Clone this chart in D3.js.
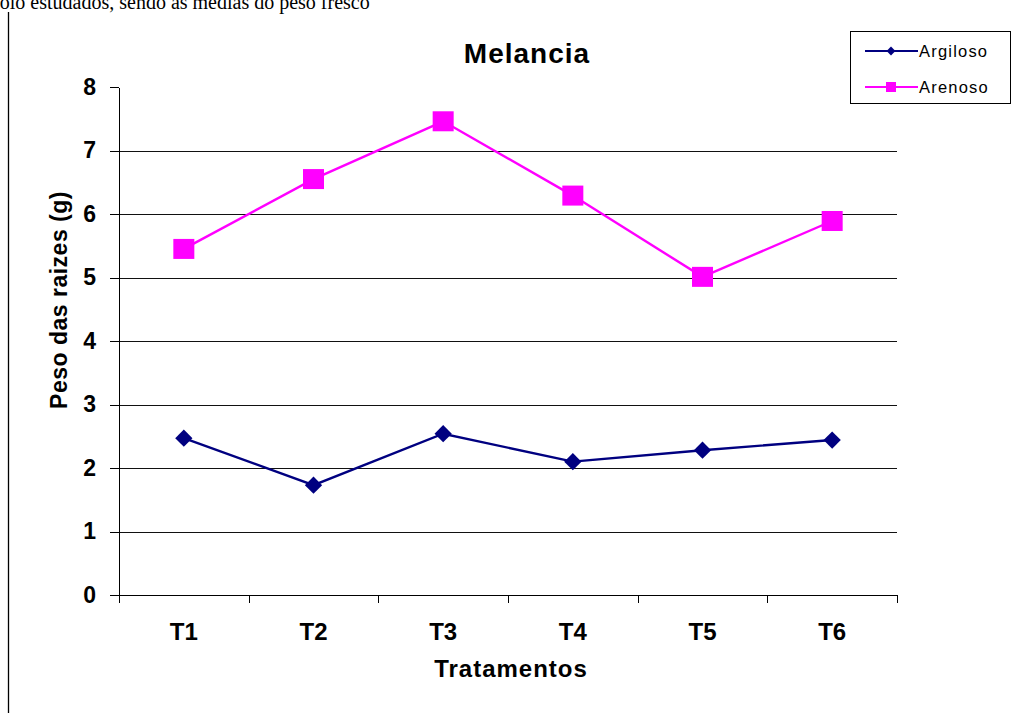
<!DOCTYPE html>
<html><head><meta charset="utf-8">
<script src="https://cdn.jsdelivr.net/npm/d3@7"></script>
<style>
body{margin:0;background:#fff;overflow:hidden}
svg{display:block}
</style></head>
<body>
<svg id="c" width="1017" height="713"></svg>
<script>
const categories = ["T1","T2","T3","T4","T5","T6"];
const argiloso = [2.47, 1.73, 2.54, 2.10, 2.28, 2.44];
const arenoso  = [5.45, 6.55, 7.46, 6.29, 5.01, 5.89];
const yTicks = [0,1,2,3,4,5,6,7,8];
const seriesNames = ["Argiloso","Arenoso"];
const seriesColors = ["#000080","#FF00FF"];

const svg = d3.select("#c");
const L = 119, R = 897, T = 87, B = 595;
const x = d3.scaleBand().domain(categories).range([L, R]).padding(0);
const y = d3.scaleLinear().domain([0, 8]).range([B, T]);

// page fragments
svg.append("text").attr("x", -8).attr("y", 9)
  .attr("font-family", "Liberation Serif, Times New Roman, serif")
  .attr("font-size", 20).attr("fill", "#000")
  .text("solo estudados, sendo as médias do peso fresco");
svg.append("line").attr("x1", 8.5).attr("x2", 8.5).attr("y1", 12).attr("y2", 713)
  .attr("stroke", "#000").attr("stroke-width", 1.3);

// gridlines
svg.append("g").attr("transform", `translate(${L},0)`)
  .call(d3.axisLeft(y).tickValues(yTicks.filter(v => v > 0 && v < 8)).tickSize(-(R - L)).tickFormat(""))
  .call(g => g.select(".domain").remove())
  .call(g => g.selectAll("line").attr("stroke", "#111").attr("stroke-width", 1).attr("shape-rendering", "crispEdges"));

// y axis
svg.append("g").attr("transform", `translate(${L},0)`)
  .call(d3.axisLeft(y).tickValues(yTicks).tickSize(9).tickPadding(14).tickFormat(d3.format("d")).tickSizeOuter(0))
  .call(g => g.select(".domain").attr("stroke", "#000").attr("shape-rendering", "crispEdges"))
  .call(g => g.selectAll("line").attr("shape-rendering", "crispEdges"))
  .call(g => g.selectAll("text").attr("font-family", "Arial, Liberation Sans, sans-serif")
    .attr("font-size", 23).attr("font-weight", "bold").attr("fill", "#000"));

// x axis
const xg = svg.append("g").attr("transform", `translate(0,${B})`);
xg.call(d3.axisBottom(x).tickSize(0).tickPadding(28).tickSizeOuter(0))
  .call(g => g.select(".domain").attr("stroke", "#000").attr("shape-rendering", "crispEdges"))
  .call(g => g.selectAll("text").attr("font-family", "Arial, Liberation Sans, sans-serif")
    .attr("font-size", 24).attr("font-weight", "bold").attr("fill", "#000"));
const bounds = categories.map(c => x(c)).concat([x.range()[1]]);
xg.selectAll("line.bt").data(bounds).join("line").attr("class", "bt")
  .attr("x1", d => d + 0.5).attr("x2", d => d + 0.5).attr("y1", 0).attr("y2", 8)
  .attr("stroke", "#000").attr("shape-rendering", "crispEdges");

// titles
svg.append("text").attr("x", 527).attr("y", 63).attr("text-anchor", "middle")
  .attr("font-family", "Arial, Liberation Sans, sans-serif").attr("font-size", 28)
  .attr("font-weight", "bold").attr("letter-spacing", 1).text("Melancia");
svg.append("text").attr("x", 511).attr("y", 677).attr("text-anchor", "middle")
  .attr("font-family", "Arial, Liberation Sans, sans-serif").attr("font-size", 24)
  .attr("font-weight", "bold").attr("letter-spacing", 1).text("Tratamentos");
svg.append("text").attr("transform", "translate(67,300) rotate(-90)").attr("text-anchor", "middle")
  .attr("font-family", "Arial, Liberation Sans, sans-serif").attr("font-size", 23)
  .attr("font-weight", "bold").attr("letter-spacing", 0.5).text("Peso das raizes (g)");

// series
const cx = c => x(c) + x.bandwidth() / 2;
const line = d3.line().x((d, i) => cx(categories[i])).y(d => y(d));
svg.append("path").datum(argiloso).attr("d", line).attr("fill", "none")
  .attr("stroke", seriesColors[0]).attr("stroke-width", 2.4);
svg.append("path").datum(arenoso).attr("d", line).attr("fill", "none")
  .attr("stroke", seriesColors[1]).attr("stroke-width", 2.4);

svg.selectAll("path.dia").data(argiloso).join("path").attr("class", "dia")
  .attr("d", d3.symbol(d3.symbolDiamond2, 190)())
  .attr("transform", (d, i) => `translate(${cx(categories[i])},${y(d)})`)
  .attr("fill", seriesColors[0]);
svg.selectAll("rect.sq").data(arenoso).join("rect").attr("class", "sq")
  .attr("x", (d, i) => cx(categories[i]) - 10.5).attr("y", d => y(d) - 10)
  .attr("width", 21).attr("height", 20).attr("fill", seriesColors[1]);

// legend
const lg = svg.append("g");
lg.append("rect").attr("x", 850.5).attr("y", 31.5).attr("width", 160).attr("height", 72)
  .attr("fill", "#fff").attr("stroke", "#000").attr("stroke-width", 1).attr("shape-rendering", "crispEdges");
const rows = [51, 87];
seriesNames.forEach((n, i) => {
  lg.append("line").attr("x1", 865).attr("x2", 918).attr("y1", rows[i]).attr("y2", rows[i])
    .attr("stroke", seriesColors[i]).attr("stroke-width", 2);
  if (i === 0) {
    lg.append("path").attr("d", d3.symbol(d3.symbolDiamond2, 50)())
      .attr("transform", `translate(891,${rows[i]})`).attr("fill", seriesColors[i]);
  } else {
    lg.append("rect").attr("x", 886).attr("y", rows[i] - 5).attr("width", 10).attr("height", 10)
      .attr("fill", seriesColors[i]);
  }
  lg.append("text").attr("x", 919).attr("y", rows[i] + 6)
    .attr("font-family", "Arial, Liberation Sans, sans-serif").attr("font-size", 16.5)
    .attr("letter-spacing", 1.2).attr("fill", "#000").text(n);
});
</script>
</body></html>
